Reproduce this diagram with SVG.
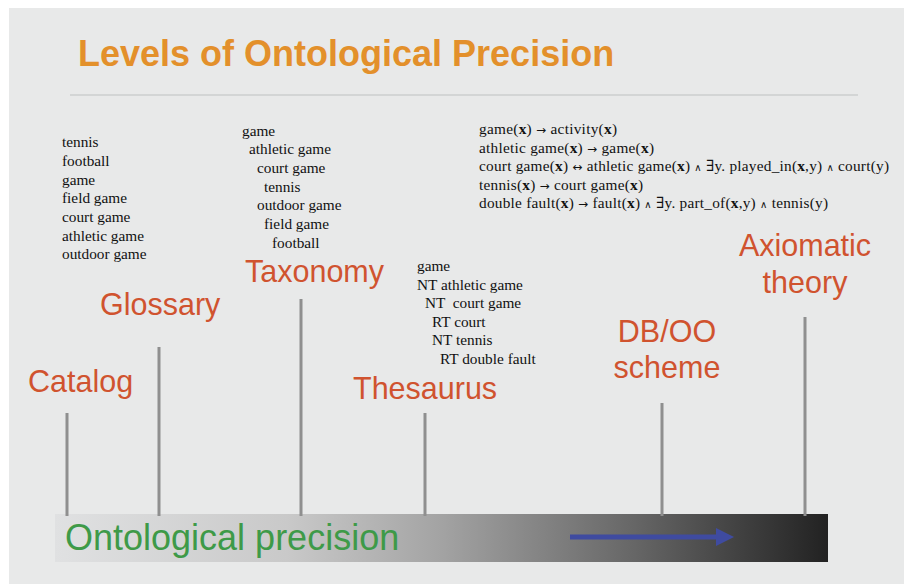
<svg xmlns="http://www.w3.org/2000/svg" width="904" height="585" viewBox="0 0 904 585">
<style>
.title{font-family:"Liberation Sans",Arial,sans-serif;font-weight:bold;font-size:36px;fill:#E3902B}
.lbl{font-family:"Liberation Sans",Arial,sans-serif;font-size:30.5px;fill:#D0532F}
.ser{font-family:"Liberation Serif","DejaVu Serif",serif;font-size:15.3px;fill:#111}
.b{font-weight:bold}
.ar{font-family:"DejaVu Sans",sans-serif;font-size:12px}
.and{font-family:"DejaVu Sans",sans-serif;font-size:10px}
.tick{stroke:#8f8f8f;stroke-width:3;fill:none}
.green{font-family:"Liberation Sans",Arial,sans-serif;font-size:36px;fill:#3E9A48}
</style>
<defs>
<linearGradient id="grad" x1="0" y1="0" x2="1" y2="0">
<stop offset="0" stop-color="#E0E1E2"/>
<stop offset="0.3" stop-color="#C9C9C9"/>
<stop offset="0.5" stop-color="#A3A3A3"/>
<stop offset="0.75" stop-color="#666666"/>
<stop offset="1" stop-color="#222222"/>
</linearGradient>
</defs>
<rect x="0" y="0" width="904" height="585" fill="#ffffff"/>
<rect x="9" y="8" width="895" height="576" fill="#E8E9E9"/>
<text class="title" x="78" y="66">Levels of Ontological Precision</text>
<line x1="70" y1="95" x2="858" y2="95" stroke="#D3D5D5" stroke-width="2"/>

<g id="bar">
<rect x="55" y="514" width="773" height="48" fill="url(#grad)"/>
<text class="green" x="65" y="550">Ontological precision</text>
<line x1="570" y1="537" x2="720" y2="537" stroke="#3F4BA0" stroke-width="5"/>
<polygon points="716,528 734,537 716,546" fill="#3F4BA0"/>
</g>

<g id="connectors">
<line class="tick" x1="67" y1="413" x2="67" y2="516"/>
<line class="tick" x1="159" y1="347" x2="159" y2="516"/>
<line class="tick" x1="301" y1="299" x2="301" y2="516"/>
<line class="tick" x1="425" y1="413" x2="425" y2="516"/>
<line class="tick" x1="662" y1="403" x2="662" y2="516"/>
<line class="tick" x1="805" y1="317" x2="805" y2="516"/>
</g>

<g id="catalog">
<text class="lbl" x="28" y="392">Catalog</text>
<g class="ser">
<text x="62" y="147">tennis</text>
<text x="62" y="166">football</text>
<text x="62" y="184.5">game</text>
<text x="62" y="203">field game</text>
<text x="62" y="222">court game</text>
<text x="62" y="240.5">athletic game</text>
<text x="62" y="259">outdoor game</text>
</g>
</g>

<g id="glossary">
<text class="lbl" x="100" y="315">Glossary</text>
</g>

<g id="taxonomy">
<text class="lbl" x="245" y="282">Taxonomy</text>
<g class="ser">
<text x="242" y="135.5">game</text>
<text x="249" y="154">athletic game</text>
<text x="257" y="173">court game</text>
<text x="264" y="191.5">tennis</text>
<text x="257" y="210">outdoor game</text>
<text x="264" y="229">field game</text>
<text x="272" y="247.5">football</text>
</g>
</g>

<g id="thesaurus">
<text class="lbl" x="353" y="399">Thesaurus</text>
<g class="ser">
<text x="417" y="271">game</text>
<text x="417" y="289.5">NT athletic game</text>
<text x="425" y="308" xml:space="preserve">NT  court game</text>
<text x="432" y="326.5">RT court</text>
<text x="432" y="345">NT tennis</text>
<text x="440" y="363.5">RT double fault</text>
</g>
</g>

<g id="dboo">
<text class="lbl" x="667" y="342" text-anchor="middle">DB/OO</text>
<text class="lbl" x="667" y="378" text-anchor="middle">scheme</text>
</g>

<g id="axiomatic">
<text class="lbl" x="805" y="256" text-anchor="middle">Axiomatic</text>
<text class="lbl" x="805" y="293" text-anchor="middle">theory</text>
<g class="ser">
<text x="479" y="134" textLength="138" lengthAdjust="spacing">game(<tspan class="b">x</tspan>) <tspan class="ar">→</tspan> activity(<tspan class="b">x</tspan>)</text>
<text x="479" y="152.5" textLength="175" lengthAdjust="spacing">athletic game(<tspan class="b">x</tspan>) <tspan class="ar">→</tspan> game(<tspan class="b">x</tspan>)</text>
<text x="479" y="171" textLength="410" lengthAdjust="spacing">court game(<tspan class="b">x</tspan>) <tspan class="ar">↔</tspan> athletic game(<tspan class="b">x</tspan>) <tspan class="and">∧</tspan> ∃y. played_in(<tspan class="b">x</tspan>,y) <tspan class="and">∧</tspan> court(y)</text>
<text x="479" y="189.5" textLength="164" lengthAdjust="spacing">tennis(<tspan class="b">x</tspan>) <tspan class="ar">→</tspan> court game(<tspan class="b">x</tspan>)</text>
<text x="479" y="208" textLength="349" lengthAdjust="spacing">double fault(<tspan class="b">x</tspan>) <tspan class="ar">→</tspan> fault(<tspan class="b">x</tspan>) <tspan class="and">∧</tspan> ∃y. part_of(<tspan class="b">x</tspan>,y) <tspan class="and">∧</tspan> tennis(y)</text>
</g>
</g>
</svg>
